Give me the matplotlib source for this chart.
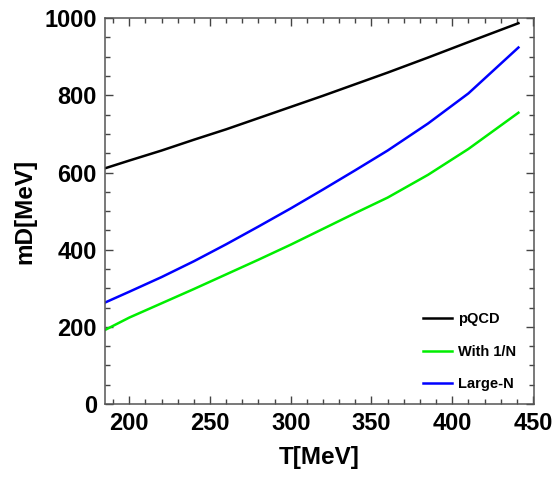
import matplotlib
matplotlib.use("Agg")
import matplotlib.pyplot as plt
from matplotlib.ticker import MultipleLocator

# temperature grid [MeV]
T = [185, 200, 220, 240, 260, 280, 300, 320, 340, 360, 385, 410, 441]

# Debye mass curves [MeV]
pqcd = [611, 631, 657, 685, 712, 741, 770, 799, 829, 859, 898, 938, 987]
with_1n = [192, 224, 261, 298, 336, 374, 413, 454, 495, 535, 594, 661, 755]
large_n = [263, 291, 329, 370, 414, 460, 507, 556, 606, 657, 727, 805, 924]

series_labels = ["pQCD", "With 1/N", "Large-N"]
series_colors = ["black", "#00ee00", "#0000ff"]


def main():
    plt.rcParams["font.family"] = ["Liberation Sans", "DejaVu Sans"]
    plt.rcParams["font.weight"] = "bold"

    fig = plt.figure(figsize=(5.56, 4.79), dpi=100)
    ax = fig.add_axes([0.189, 0.1566, 0.771, 0.8054])

    for ys, lab, col in zip([pqcd, with_1n, large_n], series_labels, series_colors):
        ax.plot(T, ys, color=col, lw=1.8, label=lab)

    ax.set_xlim(185, 450.5)
    ax.set_ylim(0, 1000)
    ax.xaxis.set_major_locator(MultipleLocator(50))
    ax.xaxis.set_minor_locator(MultipleLocator(10))
    ax.yaxis.set_major_locator(MultipleLocator(200))
    ax.yaxis.set_minor_locator(MultipleLocator(50))

    ax.tick_params(which="both", direction="in", top=True, right=True,
                   color="#444444", labelsize=17, width=1.0)
    ax.tick_params(which="major", length=6, pad=6)
    ax.tick_params(which="minor", length=3.5)
    for lbl in ax.get_xticklabels() + ax.get_yticklabels():
        lbl.set_fontweight("bold")
    for sp in ax.spines.values():
        sp.set_color("#555555")
        sp.set_linewidth(1.1)

    ax.set_xlabel("T[MeV]", fontsize=17.5, fontweight="bold", labelpad=8)
    ax.set_ylabel("mD[MeV]", fontsize=17.5, fontweight="bold", labelpad=6)

    ax.legend(loc="lower right", frameon=False,
              handlelength=2.0, handletextpad=0.4, labelspacing=1.25,
              prop={"weight": "bold", "size": 10.5},
              bbox_to_anchor=(0.99, 0.0))

    fig.savefig("out.png", dpi=100)


if __name__ == "__main__":
    main()
